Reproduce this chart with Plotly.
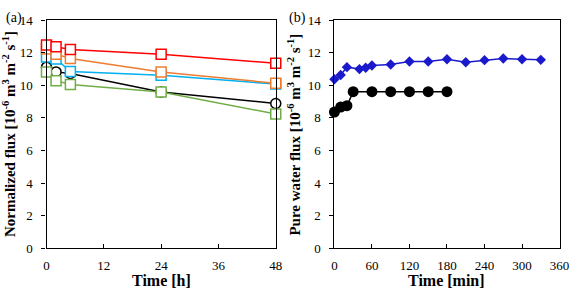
import plotly.graph_objects as go

# Panel (a): normalized flux vs time [h]
time_h = [0, 2, 5, 24, 48]
flux_red = [12.48, 12.37, 12.2, 11.92, 11.36]
flux_orange = [12.23, 11.92, 11.65, 10.82, 10.13]
flux_blue = [11.75, 11.62, 10.85, 10.62, 10.08]
flux_black = [11.12, 10.83, 10.73, 9.6, 8.89]
flux_green = [10.83, 10.29, 10.05, 9.6, 8.24]

# Panel (b): pure water flux vs time [min]
time_blue_min = [0, 10, 20, 40, 50, 60, 90, 120, 150, 180, 210, 240, 270, 300, 330]
pwf_blue = [10.38, 10.64, 11.12, 11.0, 11.08, 11.22, 11.28, 11.47, 11.47, 11.61, 11.42, 11.55, 11.65, 11.61, 11.57]
time_black_min = [0, 10, 20, 30, 60, 90, 120, 150, 180]
pwf_black = [8.36, 8.67, 8.75, 9.61, 9.61, 9.61, 9.61, 9.61, 9.61]

xticks_a = [0, 12, 24, 36, 48]
xticks_b = [0, 60, 120, 180, 240, 300, 360]
yticks = [0, 2, 4, 6, 8, 10, 12, 14]

FONT = "Liberation Serif"
W, H = 581, 296

fig = go.Figure()

def add_sq(x, y, color, symbol="square", fill="white"):
    fig.add_trace(go.Scatter(
        x=x, y=y, mode="lines+markers", xaxis="x", yaxis="y",
        line=dict(color=color, width=1.5),
        marker=dict(symbol=symbol, size=10, color=fill, line=dict(color=color, width=1.5)),
        showlegend=False, cliponaxis=False))

add_sq(time_h, flux_black, "black", "circle")
add_sq(time_h, flux_green, "#70AD47")
add_sq(time_h, flux_blue, "#00B0F0")
add_sq(time_h, flux_orange, "#ED7D31")
add_sq(time_h, flux_red, "#FF0000")

fig.add_trace(go.Scatter(
    x=time_black_min, y=pwf_black, mode="lines+markers", xaxis="x2", yaxis="y2",
    line=dict(color="black", width=1.5),
    marker=dict(symbol="circle", size=11, color="black"),
    showlegend=False, cliponaxis=False))
fig.add_trace(go.Scatter(
    x=time_blue_min, y=pwf_blue, mode="lines+markers", xaxis="x2", yaxis="y2",
    line=dict(color="#1a1acc", width=1.5),
    marker=dict(symbol="diamond", size=8, color="#1a1acc"),
    showlegend=False, cliponaxis=False))

ydom = [1 - 254 / H, 1 - 14 / H]
xdom_a = [44.5 / W, 279 / W]
xdom_b = [339 / W, 569.3 / W]

common_x = dict(showline=True, mirror=True, linecolor="black", linewidth=1.3,
                ticks="inside", ticklen=4, tickcolor="black", showgrid=False,
                zeroline=False, ticklabeloverflow="allow", ticklabelstandoff=5,
                tickfont=dict(family=FONT, size=13, color="black"))
common_y = dict(showline=True, mirror=True, linecolor="black", linewidth=1.3,
                ticks="outside", ticklen=4, tickcolor="black", showgrid=False,
                zeroline=False, range=[0, 14], tickvals=yticks, ticklabelstandoff=6,
                tickfont=dict(family=FONT, size=13, color="black"))

fig.update_layout(
    width=W, height=H, margin=dict(l=0, r=0, t=0, b=0),
    paper_bgcolor="white", plot_bgcolor="white",
    font=dict(family=FONT, color="black"),
    xaxis=dict(domain=xdom_a, range=[0, 48], tickvals=xticks_a, anchor="y", **common_x),
    yaxis=dict(domain=ydom, anchor="x", **common_y),
    xaxis2=dict(domain=xdom_b, range=[0, 360], tickvals=xticks_b, anchor="y2", **common_x),
    yaxis2=dict(domain=ydom, anchor="x2", **common_y),
)

ann = []
tf = dict(family=FONT, size=16, color="black")
ann.append(dict(text="<b>Time [h]</b>", x=(xdom_a[0] + xdom_a[1]) / 2, y=1 - 288 / H,
                xref="paper", yref="paper", showarrow=False, font=tf, xanchor="center", yanchor="middle"))
ann.append(dict(text="<b>Time [min]</b>", x=(xdom_b[0] + xdom_b[1]) / 2, y=1 - 288 / H,
                xref="paper", yref="paper", showarrow=False, font=tf, xanchor="center", yanchor="middle"))
ylab = "[10<sup>-6</sup> m<sup>3</sup> m<sup>-2</sup> s<sup>-1</sup>]"
ann.append(dict(text="<b>Normalized flux " + ylab + "</b>", x=6 / W, y=(ydom[0] + ydom[1]) / 2,
                xref="paper", yref="paper", showarrow=False, textangle=-90,
                font=dict(family=FONT, size=15, color="black"), xanchor="center", yanchor="middle"))
ann.append(dict(text="<b>Pure water flux " + ylab + "</b>", x=298 / W, y=(ydom[0] + ydom[1]) / 2,
                xref="paper", yref="paper", showarrow=False, textangle=-90,
                font=dict(family=FONT, size=15, color="black"), xanchor="center", yanchor="middle"))
ann.append(dict(text="(a)", x=1 / W, y=1 - 1 / H, xref="paper", yref="paper", showarrow=False,
                font=dict(family=FONT, size=14, color="black"), xanchor="left", yanchor="top"))
ann.append(dict(text="(b)", x=291 / W, y=1 - 1 / H, xref="paper", yref="paper", showarrow=False,
                font=dict(family=FONT, size=14, color="black"), xanchor="left", yanchor="top"))
fig.update_layout(annotations=ann)

fig.write_html("out.html", config={"displayModeBar": False},
               post_script="document.body.style.margin='0';")
